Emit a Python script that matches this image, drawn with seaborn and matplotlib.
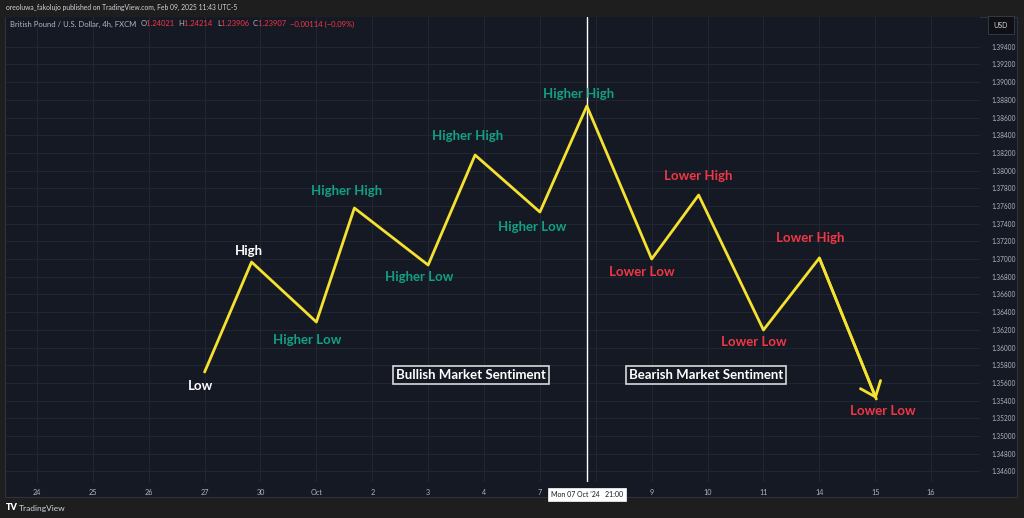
import numpy as np
import pandas as pd
import matplotlib
matplotlib.use("Agg")
import matplotlib.pyplot as plt
import seaborn as sns
from matplotlib.patches import Rectangle

# ---- data ----
# the "8" tick sits under the crosshair date label, so it is left blank
day_labels = ["24", "25", "26", "27", "30", "Oct", "2", "3", "4", "7", "",
              "9", "10", "11", "14", "15", "16"]
price_ticks = [1.346, 1.348, 1.350, 1.352, 1.354, 1.356, 1.358, 1.360, 1.362,
               1.364, 1.366, 1.368, 1.370, 1.372, 1.374, 1.376, 1.378, 1.380,
               1.382, 1.384, 1.386, 1.388, 1.390, 1.392, 1.394]

swing_x = [3.0, 3.84, 5.0, 5.68, 7.0, 7.84, 9.0, 9.84, 11.0, 11.84, 13.0, 14.0, 15.02]
swing_price = [1.35724, 1.36967, 1.36289, 1.37577, 1.36933, 1.38176, 1.37532,
               1.38730, 1.37001, 1.37724, 1.36199, 1.37012, 1.35419]
swing_labels = ["Low", "High", "Higher Low", "Higher High", "Higher Low",
                "Higher High", "Higher Low", "Higher High", "Lower Low",
                "Lower High", "Lower Low", "Lower High", "Lower Low"]
swing_kind = ["plain", "plain", "bull", "bull", "bull", "bull", "bull", "bull",
              "bear", "bear", "bear", "bear", "bear"]

crosshair_x = 9.84
crosshair_label = "Mon 07 Oct '24   21:00"

symbol_name = "British Pound / U.S. Dollar, 4h, FXCM"
ohlc_names = ["O", "H", "L", "C"]
ohlc_values = ["1.24021", "1.24214", "1.23906", "1.23907"]
change_text = "\u22120.00114 (\u22120.09%)"
header_text = "oreoluwa_fakolujo published on TradingView.com, Feb 09, 2025 11:43 UTC-5"

df = pd.DataFrame({"x": swing_x, "price": swing_price})

# ---- colours ----
outer_bg = "#1e1e1e"
pane_bg = "#151924"
grid_c = "#222632"
axis_txt = "#b2b5be"
yellow = "#f5e12f"
green = "#12a084"
red = "#f23645"
kind_color = {"plain": "#ffffff", "bull": green, "bear": red}

sns.set_theme(style="dark")
plt.rcParams["font.family"] = ["Lato", "DejaVu Sans"]

W, H = 1024, 518
fig = plt.figure(figsize=(W / 100, H / 100), dpi=100, facecolor=outer_bg)

# pane background + border (behind the axes)
fig.patches.append(Rectangle((5 / W, 1 - 497 / H), 1012 / W, 480 / H,
                             transform=fig.transFigure, facecolor=pane_bg,
                             edgecolor="#2e323d", lw=0.8, zorder=-10))

ax = fig.add_axes([6 / W, 1 - 482 / H, 974 / W, 465 / H])
ax.set_facecolor(pane_bg)
for s in ax.spines.values():
    s.set_visible(False)

sns.lineplot(data=df, x="x", y="price", sort=False, color=yellow, lw=2.0,
             ax=ax, zorder=3)
# arrow head at the last swing
ax.annotate("", xy=(swing_x[-1], swing_price[-1]),
            xytext=(swing_x[-2], swing_price[-2]),
            arrowprops=dict(arrowstyle="->,head_length=0.8,head_width=0.65",
                            color=yellow, lw=2.0, shrinkA=0, shrinkB=0),
            zorder=3)

ax.set_xlim(-0.554, 16.875)
ax.set_ylim(1.34481, 1.39736)

ax.set_xticks(range(len(day_labels)))
ax.set_xticklabels(day_labels)
ax.set_yticks(price_ticks)
ax.set_yticklabels([f"{p:.5f}" for p in price_ticks])
ax.yaxis.tick_right()
ax.tick_params(axis="both", length=0, labelsize=5.2, labelcolor=axis_txt)
ax.tick_params(axis="y", labelsize=4.7, pad=8)
ax.tick_params(axis="x", pad=5)
ax.set_xlabel("")
ax.set_ylabel("")
ax.grid(True, color=grid_c, lw=0.8)
ax.set_axisbelow(True)

# swing labels
offsets = [(-4, -14), (-3, 11), (-9, -18), (-8, 17), (-9, -12), (-8, 19),
           (-8, -15), (-8, 12), (-10, -13), (0, 19), (-10, -12), (-9, 20), (6, -12)]
for xv, pv, lab, kind, off in zip(swing_x, swing_price, swing_labels, swing_kind, offsets):
    ax.annotate(lab, xy=(xv, pv), xytext=off, textcoords="offset pixels",
                ha="center", va="center", fontsize=9.5, fontweight="bold",
                color=kind_color[kind], zorder=4)

# sentiment boxes
for xv, txt in [(7.77, "Bullish Market Sentiment"), (11.98, "Bearish Market Sentiment")]:
    ax.text(xv, 1.35690, txt, ha="center", va="center", fontsize=9.5,
            fontweight="bold", color="white", zorder=4,
            bbox=dict(boxstyle="square,pad=0.22", fc=pane_bg, ec="#d8d8d8", lw=1.2))

# crosshair
ax.axvline(crosshair_x, color="white", lw=1.0, zorder=2)
ax.text(crosshair_x, -0.019, crosshair_label, transform=ax.get_xaxis_transform(),
        ha="center", va="top", fontsize=5.0, color="#131722", zorder=6,
        bbox=dict(boxstyle="square,pad=0.45", fc="white", ec="white", lw=0.5),
        clip_on=False)

# symbol legend with multi-coloured values
t = ax.text(4 / 974, 1 - 7 / 465, symbol_name + "  ", transform=ax.transAxes,
            ha="left", va="center", fontsize=5.5, color=axis_txt)
parts = []
for n, v in zip(ohlc_names, ohlc_values):
    parts.append((n, axis_txt))
    parts.append((v + "  ", red))
parts.append((change_text, red))
prev = t
for txt, col in parts:
    prev = ax.annotate(txt, xy=(1, 0.5), xycoords=prev, ha="left", va="center",
                       fontsize=5.5, color=col)

# header and footer
fig.text(6 / W, 1 - 7 / H, header_text, ha="left", va="center", fontsize=4.9,
         color="#d1d4dc")
fig.text(1001 / W, 1 - 25 / H, "USD", ha="center", va="center", fontsize=5,
         color="#d1d4dc",
         bbox=dict(boxstyle="square,pad=0.8", fc="#0e1016", ec="#3a3e49", lw=0.6))
fig.text(6 / W, 1 - 508 / H, "TV", ha="left", va="center", fontsize=6.5,
         fontweight="heavy", color="white")
fig.text(19 / W, 1 - 508 / H, "TradingView", ha="left", va="center", fontsize=6,
         color="#d1d4dc")

fig.savefig("out.png", dpi=100, facecolor=outer_bg)
